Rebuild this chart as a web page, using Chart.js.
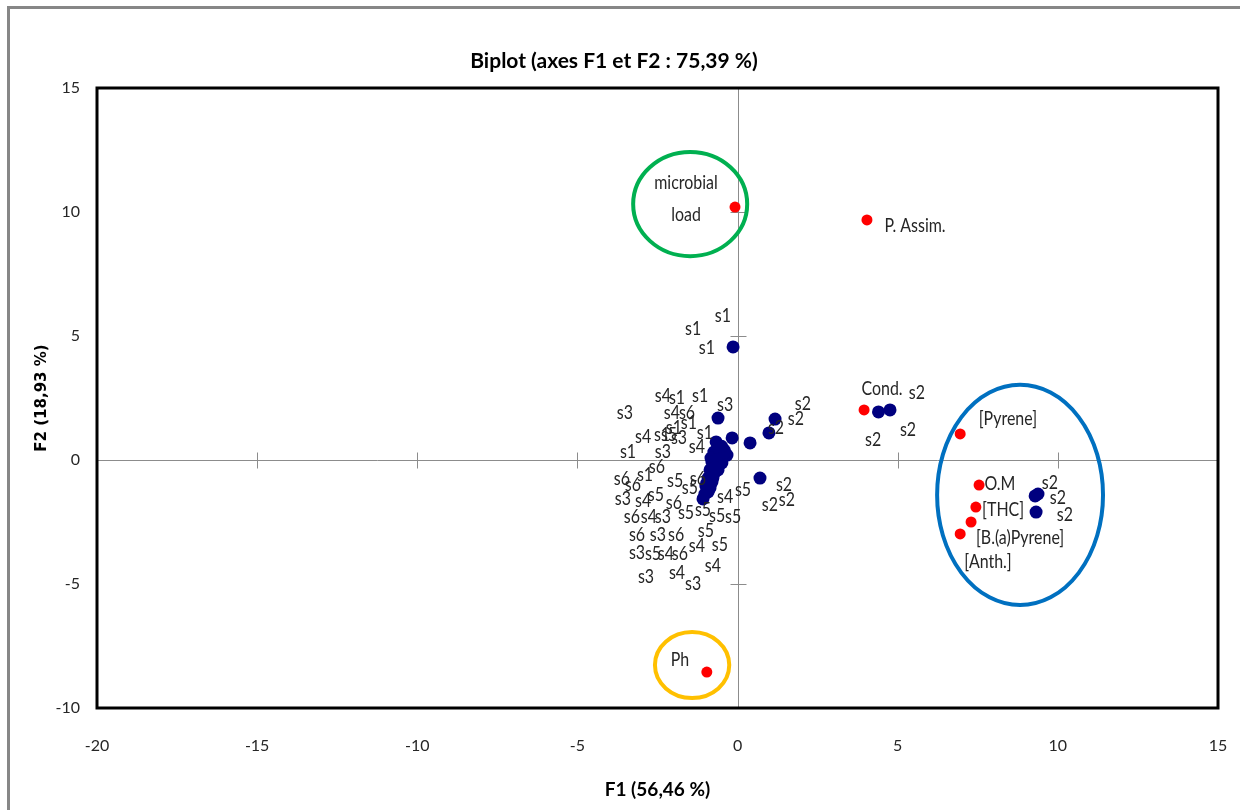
<!DOCTYPE html>
<html><head><meta charset="utf-8">
<script src="https://cdn.jsdelivr.net/npm/chart.js@4.4.1/dist/chart.umd.min.js"></script>
<style>html,body{margin:0;padding:0;background:#fff}canvas{display:block}</style>
</head><body>
<canvas id="c" width="1240" height="810"></canvas>
<script>
// ---- Data ----
const titleText = 'Biplot (axes F1 et F2 : 75,39 %)';
const xAxisTitle = 'F1 (56,46 %)';
const yAxisTitle = 'F2 (18,93 %)';
const xTicks = [-20, -15, -10, -5, 0, 5, 10, 15];
const yTicks = [-10, -5, 0, 5, 10, 15];

// observations (sites s1..s6)
const obsX = [-0.14, -0.61, -0.17, 0.39, 1.17, 0.98, 4.40, 4.76, 0.70, 9.38, 9.29, 9.32,
  -0.67, -0.55, -0.42, -0.33, -0.74, -0.58, -0.80, -0.64, -0.49, -0.86, -0.74, -0.61,
  -0.92, -0.80, -0.99, -0.86, -1.02, -1.08, -0.92, -0.77, -0.55, -0.83, -0.96, -0.67,
  -0.40, -0.70, -0.50];
const obsY = [4.56, 1.69, 0.89, 0.69, 1.65, 1.09, 1.94, 2.02, -0.73, -1.37, -1.45, -2.10,
  0.73, 0.56, 0.40, 0.20, 0.32, 0.08, -0.08, -0.20, -0.12, -0.40, -0.56, -0.40,
  -0.73, -0.89, -1.05, -1.13, -1.37, -1.57, -1.29, -0.73, 0.24, 0.08, -0.93, 0.00,
  0.30, -0.30, 0.55];

// variables
const varNames = ['microbial load', 'P. Assim.', 'Cond.', '[Pyrene]', 'O.M', '[THC]', '[B.(a)Pyrene]', '[Anth.]', 'Ph'];
const varX = [-0.08, 4.04, 3.95, 6.95, 7.54, 7.44, 7.29, 6.95, -0.96];
const varY = [10.20, 9.68, 2.02, 1.05, -1.01, -1.90, -2.50, -2.98, -8.55];

// label anchors (data units)
const labelText = ['s1','s1','s1','s4','s1','s1','s3','s3','s4','s6','s1','s1','s4','s1','s5','s3','s1','s4','s3','s1',
  's2','s2','s2','s6','s1','s6','s6','s5','s6','s5','s5','s4','s3','s4','s5','s6','s5','s5','s5','s5',
  's6','s4','s3','s6','s3','s6','s5','s3','s5','s4','s6','s4','s5','s3','s4','s4','s3',
  's2','s2','s2','Cond.','s2','s2','s2','[Pyrene]','O.M','[THC]','[B.(a)Pyrene]','[Anth.]','s2','s2','s2',
  'microbial','load','P. Assim.','Ph'];
const labelX = [-0.46,-1.39,-0.96,-2.33,-1.89,-1.17,-0.39,-3.52,-2.05,-1.58,-1.52,-1.99,-2.95,-2.36,-2.14,-1.83,-1.02,-1.27,-2.33,-3.42,
  2.04,1.82,1.20,-2.52,-2.89,-3.61,-3.27,-1.95,-1.24,-1.49,0.17,-0.39,-3.58,-2.95,-2.55,-1.99,-1.61,-1.08,-0.64,-0.14,
  -3.30,-2.77,-2.33,-3.14,-2.49,-1.92,-0.99,-3.14,-2.64,-2.24,-1.80,-1.27,-0.55,-2.86,-1.89,-0.77,-1.39,
  1.45,1.01,1.54,4.51,5.60,5.32,4.23,8.44,8.19,8.29,8.82,7.82,9.75,10.00,10.22,
  -1.61,-1.61,5.54,-1.80];
const labelY = [5.81,5.28,4.52,2.58,2.50,2.58,2.22,1.90,1.90,1.90,1.49,1.29,0.93,1.01,1.01,0.89,1.09,0.52,0.32,0.32,
  2.26,1.65,1.29,-0.28,-0.60,-0.77,-1.01,-0.85,-0.77,-1.13,-1.21,-1.49,-1.57,-1.65,-1.41,-1.73,-2.14,-2.02,-2.26,-2.30,
  -2.30,-2.30,-2.30,-3.02,-3.02,-3.02,-2.86,-3.75,-3.79,-3.79,-3.79,-3.47,-3.43,-4.72,-4.56,-4.27,-5.00,
  -1.01,-1.81,-1.61,2.86,2.70,1.21,0.81,1.65,-0.97,-2.02,-3.15,-4.11,-0.93,-1.53,-2.22,
  11.17,9.88,9.44,-8.06];

// highlight ellipses (center, radii in data units)
const ellipseCX = [-1.48, 8.82, -1.42];
const ellipseCY = [10.32, -1.41, -8.27];
const ellipseRX = [1.78, 2.59, 1.16];
const ellipseRY = [2.10, 4.44, 1.33];
const ellipseColor = ['#00B050', '#0070C0', '#FFC000'];

// ---- Chart ----
const FONT = "Lato, 'Liberation Sans', sans-serif";
const TXT = '#262626';

const decor = {
  id: 'decor',
  beforeDraw(chart) {
    const ctx = chart.ctx;
    ctx.save();
    ctx.fillStyle = '#fff';
    ctx.fillRect(0, 0, chart.width, chart.height);
    ctx.fillStyle = '#878787';
    ctx.fillRect(7, 6, chart.width - 7, 3);
    ctx.fillRect(7, 6, 3, chart.height - 6);
    ctx.restore();
  },
  beforeDatasetsDraw(chart) {
    const {ctx, chartArea: a, scales: {x, y}} = chart;
    ctx.save();
    ctx.strokeStyle = '#8c8c8c';
    ctx.lineWidth = 1;
    const x0 = Math.round(x.getPixelForValue(0)) + 0.5;
    const y0 = Math.round(y.getPixelForValue(0)) + 0.5;
    ctx.beginPath();
    ctx.moveTo(a.left, y0); ctx.lineTo(a.right, y0);
    ctx.moveTo(x0, a.top); ctx.lineTo(x0, a.bottom);
    xTicks.forEach(v => { const p = Math.round(x.getPixelForValue(v)) + 0.5; ctx.moveTo(p, y0 - 8); ctx.lineTo(p, y0 + 8); });
    yTicks.forEach(v => { const p = Math.round(y.getPixelForValue(v)) + 0.5; ctx.moveTo(x0 - 8, p); ctx.lineTo(x0 + 8, p); });
    ctx.stroke();
    ellipseCX.forEach((cx, i) => {
      const px = x.getPixelForValue(cx), py = y.getPixelForValue(ellipseCY[i]);
      const rx = Math.abs(x.getPixelForValue(cx + ellipseRX[i]) - px);
      const ry = Math.abs(y.getPixelForValue(ellipseCY[i] + ellipseRY[i]) - py);
      ctx.beginPath();
      ctx.ellipse(px, py, rx, ry, 0, 0, Math.PI * 2);
      ctx.strokeStyle = ellipseColor[i];
      ctx.lineWidth = 4;
      ctx.stroke();
    });
    ctx.restore();
  },
  afterDatasetsDraw(chart) {
    const {ctx, chartArea: a, scales: {x, y}} = chart;
    ctx.save();
    ctx.fillStyle = TXT;
    ctx.font = '19px ' + FONT;
    ctx.textAlign = 'center';
    ctx.textBaseline = 'middle';
    labelText.forEach((t, i) => {
      ctx.save();
      ctx.translate(x.getPixelForValue(labelX[i]), y.getPixelForValue(labelY[i]));
      ctx.scale(0.84, 1);
      ctx.fillText(t, 0, 0);
      ctx.restore();
    });
    ctx.strokeStyle = '#000';
    ctx.lineWidth = 3;
    ctx.strokeRect(a.left, a.top, a.right - a.left, a.bottom - a.top);
    ctx.restore();
  }
};

new Chart(document.getElementById('c'), {
  type: 'scatter',
  data: {
    datasets: [
      {
        label: 'Observations',
        data: obsX.map((v, i) => ({x: v, y: obsY[i]})),
        backgroundColor: '#00007F', borderColor: '#00007F',
        pointRadius: 6.5, pointHoverRadius: 6.5, borderWidth: 0
      },
      {
        label: 'Variables',
        data: varX.map((v, i) => ({x: v, y: varY[i], name: varNames[i]})),
        backgroundColor: '#FF0000', borderColor: '#FF0000',
        pointRadius: 5.5, pointHoverRadius: 5.5, borderWidth: 0
      }
    ]
  },
  options: {
    responsive: false,
    animation: false,
    layout: {padding: {left: 10, right: 22, top: 0, bottom: 0}},
    plugins: {
      legend: {display: false},
      tooltip: {enabled: false},
      title: {
        display: true, text: titleText, color: '#000',
        font: {family: FONT, size: 21, weight: 'bold', lineHeight: 1.2},
        padding: {top: 49, bottom: 13.8}
      }
    },
    scales: {
      x: {
        type: 'linear', min: -20, max: 15,
        ticks: {stepSize: 5, color: TXT, padding: 28, font: {family: FONT, size: 16}},
        grid: {display: false, drawTicks: false},
        border: {display: false},
        title: {display: true, text: xAxisTitle, color: '#000', font: {family: FONT, size: 19, weight: 'bold'}, padding: {top: 0, bottom: 9}},
        afterFit(s) { s.height = 102; s.paddingLeft = 0; s.paddingRight = 0; }
      },
      y: {
        type: 'linear', min: -10, max: 15,
        ticks: {stepSize: 5, color: TXT, padding: 17, font: {family: FONT, size: 16}},
        grid: {display: false, drawTicks: false},
        border: {display: false},
        title: {display: true, text: yAxisTitle, color: '#000', font: {family: "'DejaVu Sans', sans-serif", size: 15, weight: 'bold'}, padding: {top: 23, bottom: 0}},
        afterFit(s) { s.width = 87; s.paddingTop = 0; s.paddingBottom = 0; }
      }
    }
  },
  plugins: [decor]
});
</script>
</body></html>
